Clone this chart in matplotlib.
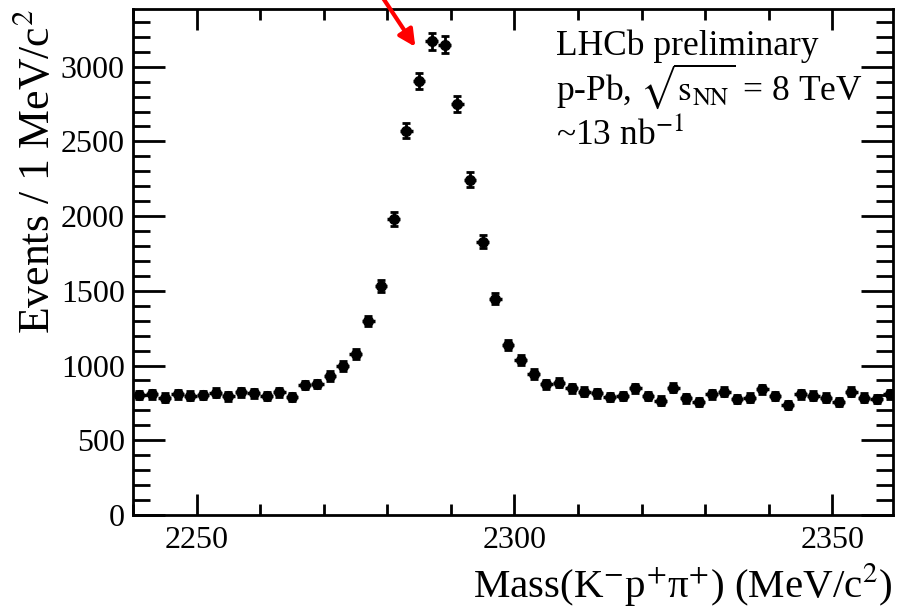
import numpy as np
import matplotlib
matplotlib.use("Agg")
import matplotlib.pyplot as plt
from matplotlib.ticker import MultipleLocator

plt.rcParams['font.family'] = ['Liberation Serif', 'DejaVu Serif']
plt.rcParams['mathtext.fontset'] = 'stix'

mass = list(range(2241, 2360, 2))
counts = [803, 807, 785, 807, 798, 803, 818, 793, 821, 814, 796, 821, 790,
          870, 876, 930, 997, 1075, 1298, 1532, 1980, 2571, 2905, 3171, 3148,
          2751, 2245, 1828, 1447, 1135, 1035, 943, 874, 885, 847, 825, 814,
          791, 796, 847, 796, 765, 852, 780, 754, 807, 825, 776, 785, 841,
          796, 736, 807, 798, 785, 758, 825, 785, 776, 807]
half_bin = 1.0

x = np.array(mass, dtype=float)
y = np.array(counts, dtype=float)

fig = plt.figure(figsize=(8.99, 6.13), dpi=100)
ax = fig.add_axes([0.148, 0.160, 0.845, 0.825])

ax.errorbar(x, y, xerr=half_bin, fmt='none', ecolor='black', elinewidth=2.5,
            capsize=0)
ax.errorbar(x, y, yerr=np.sqrt(y), fmt='o', color='black',
            ms=7, elinewidth=2, capsize=3, capthick=2)

ax.set_xlim(2240, 2359.5)
ax.set_ylim(0, 3385)

ax.xaxis.set_major_locator(MultipleLocator(50))
ax.xaxis.set_minor_locator(MultipleLocator(10))
ax.yaxis.set_major_locator(MultipleLocator(500))
ax.yaxis.set_minor_locator(MultipleLocator(100))

ax.tick_params(axis='both', which='both', direction='in', top=True, right=True,
               width=2, labelsize=23, colors='black')
ax.tick_params(axis='x', which='major', length=15, pad=8)
ax.tick_params(axis='x', which='minor', length=8)
ax.tick_params(axis='y', which='major', length=23, pad=6)
ax.tick_params(axis='y', which='minor', length=12)
for s in ax.spines.values():
    s.set_linewidth(2)

ax.set_xlabel('Mass(K$^{-}$p$^{+}$π$^{+}$) (MeV/c$^{2}$)', fontsize=29.5,
              loc='right', labelpad=4)
ax.set_ylabel('Events / 1 MeV/c$^{2}$', fontsize=31.5, loc='top', labelpad=2)

tx = 0.557
ax.text(tx, 0.910, 'LHCb preliminary', transform=ax.transAxes,
        fontsize=25.5, va='baseline', ha='left')
ax.text(tx, 0.821, r'p-Pb, $\sqrt{\mathrm{s}_{\mathrm{NN}}}$ = 8 TeV',
        transform=ax.transAxes, fontsize=25.5, va='baseline', ha='left')
ax.text(tx, 0.732, '~13 nb$^{-1}$', transform=ax.transAxes,
        fontsize=25.5, va='baseline', ha='left')

ax.annotate('', xy=(2284.4, 3133), xytext=(2279.0, 3480),
            xycoords='data', textcoords='data', annotation_clip=False,
            arrowprops=dict(arrowstyle='-|>', color='red', lw=3,
                            mutation_scale=25, shrinkA=0, shrinkB=0))

fig.savefig('out.png', dpi=100)
